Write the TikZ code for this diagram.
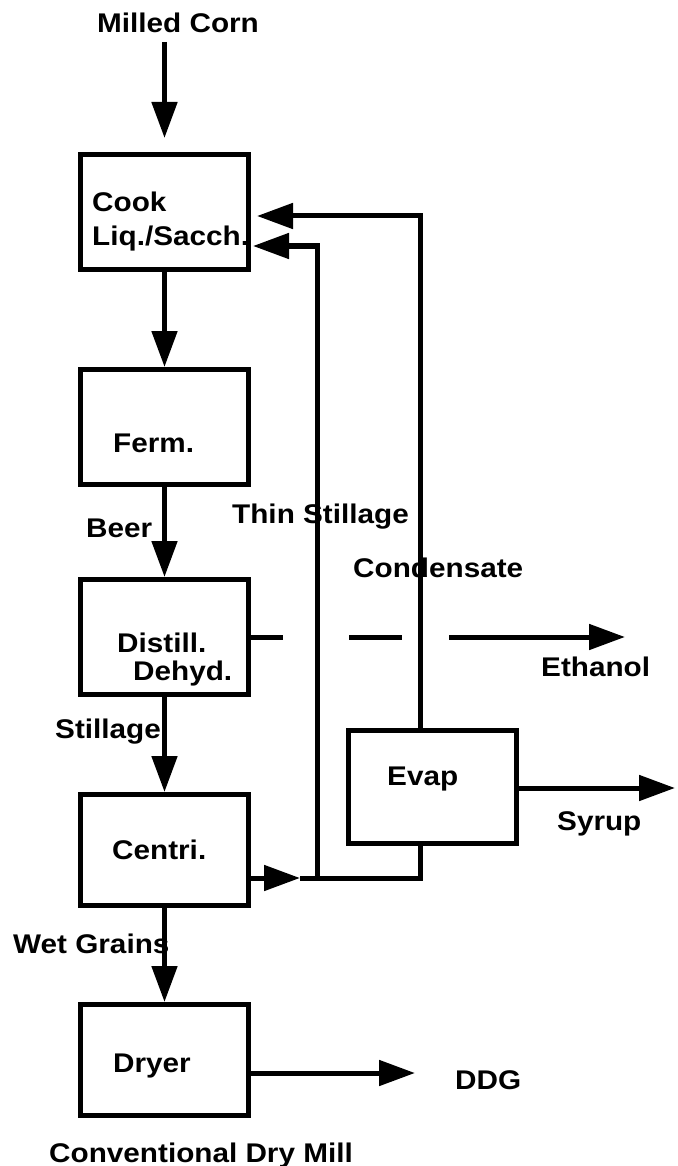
\documentclass[tikz,border=0pt]{standalone}
\usepackage{fontspec}
\newfontfamily\lblfont[FakeStretch=1.1]{Liberation Sans}
\usetikzlibrary{arrows.meta}

\begin{document}
\begin{tikzpicture}[x=1pt, y=-1pt,
    unit/.style={draw, line width=5pt, minimum width=168pt, minimum height=115pt, inner sep=0pt},
    flow/.style={line width=5pt, -{Triangle[length=36pt, width=25pt]}},
    pipe/.style={line width=5pt},
    lbl/.style={anchor=base west, inner sep=0pt, font=\lblfont\bfseries\fontsize{27}{30}\selectfont}]
        \useasboundingbox (0,0) rectangle (677,1166);

        % Draw the units
        \node[unit] (cook) at (164.5,212) {};
        \node[unit] (ferm) at (164.5,427) {};
        \node[unit] (distill) at (164.5,637) {};
        \node[unit, minimum height=111pt] (centri) at (164.5,850) {};
        \node[unit, minimum height=111pt] (dryer) at (164.5,1060) {};
        \node[unit, minimum height=113pt] (evap) at (432.5,787) {};

        % Texts inside the units
        \node[lbl] (cooktxt) at (92,212) {Cook};
        \node[lbl] (liqtxt) at (92,246) {Liq./Sacch.};
        \node[lbl] (fermtxt) at (113,452) {Ferm.};
        \node[lbl] (distilltxt) at (117,652) {Distill.};
        \node[lbl] (dehydtxt) at (133,680) {Dehyd.};
        \node[lbl] (centritxt) at (112,859) {Centri.};
        \node[lbl] (dryertxt) at (113,1072) {Dryer};
        \node[lbl] (evaptxt) at (387,785) {Evap};

        % Stream labels
        \node[lbl] (corn) at (97,33) {Milled Corn};
        \node[lbl] (beer) at (86,537) {Beer};
        \node[lbl] (thin) at (232,523) {Thin Stillage};
        \node[lbl] (condensate) at (353,577) {Condensate};
        \node[lbl] (ethanol) at (541,676) {Ethanol};
        \node[lbl] (stillage) at (55,738) {Stillage};
        \node[lbl] (syrup) at (557,830) {Syrup};
        \node[lbl] (wet) at (13,953) {Wet Grains};
        \node[lbl] (ddg) at (455,1089) {DDG};
        \node[lbl] (title) at (49,1162) {Conventional Dry Mill};

        % Main line down the column
        \coordinate (feed) at (164.5,42);
        \draw[flow, shorten >=14pt] (feed) -- (cook.north);
        \draw[flow] (cook) -- (ferm);
        \draw[flow] (ferm) -- (distill);
        \draw[flow] (distill) -- (centri);
        \draw[flow] (centri) -- (dryer);

        % Products
        \coordinate (ethend) at (625,637);
        \draw[flow, dash pattern=on 32pt off 66pt on 53pt off 47pt on 400pt] (distill.east) -- (ethend);
        \coordinate (syrend) at (675,788);
        \draw[flow] (evap.east |- syrend) -- (syrend);
        \coordinate (ddgend) at (415,1073);
        \draw[flow] (dryer.east |- ddgend) -- (ddgend);

        % Centri to the evaporator
        \coordinate (split) at (300,878);
        \coordinate (ts) at (317,878);
        \coordinate (cd) at (420,878);
        \draw[flow] (centri.east |- split) -- (split);
        \draw[pipe] (split) -- (cd) -- (cd |- evap.south);

        % Recycles back to the cooker
        \coordinate (tstop) at (317,246);
        \draw[flow, shorten >=2pt] (ts) -- (tstop) -- (cook.east |- tstop);
        \coordinate (cdtop) at (420,216);
        \draw[flow, shorten >=6pt] (cd |- evap.north) -- (cdtop) -- (cook.east |- cdtop);
    \end{tikzpicture}
\end{document}
